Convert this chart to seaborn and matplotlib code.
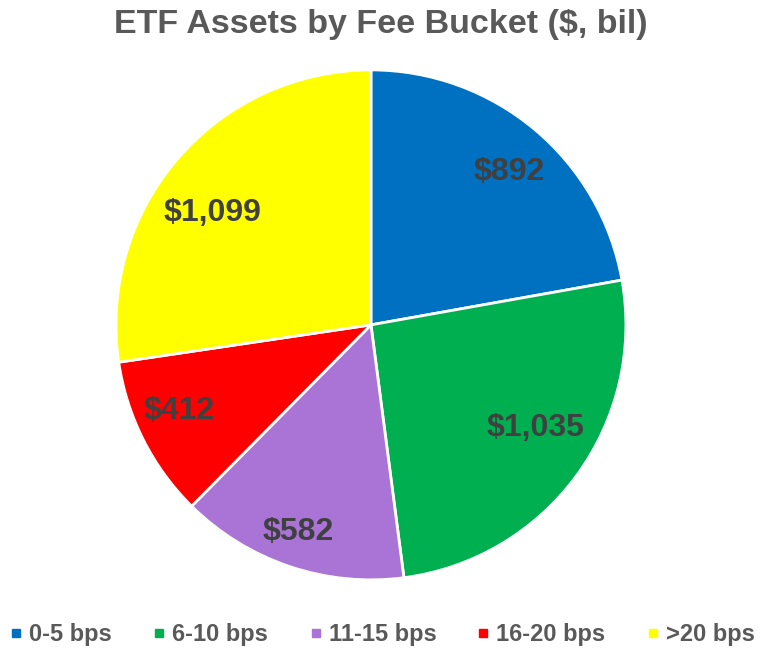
import matplotlib
matplotlib.use("Agg")
import numpy as np
import matplotlib.pyplot as plt
import seaborn as sns
from matplotlib.lines import Line2D

# Data
buckets = ["0-5 bps", "6-10 bps", "11-15 bps", "16-20 bps", ">20 bps"]
assets = [892, 1035, 582, 412, 1099]
colors = ["#0070C0", "#00B050", "#A974D6", "#FF0000", "#FFFF00"]
# value label placement: fraction of radius, angular shift from wedge middle (deg)
label_dist = [0.81, 0.76, 0.86, 0.825, 0.76]
label_shift = [-2.2, 4.2, -0.8, -2.6, 5.6]

sns.set_theme(style="white")
plt.rcParams['font.family'] = ['Liberation Sans', 'DejaVu Sans']

fig = plt.figure(figsize=(7.68, 6.55), dpi=100)
ax = fig.add_axes([0.151, 0.1145, 0.664, 0.779])

total = sum(assets)
wedges, texts, autotexts = ax.pie(
    assets, colors=colors, startangle=90, counterclock=False,
    autopct=lambda p: "${:,.0f}".format(p * total / 100),
    pctdistance=0.8,
    wedgeprops=dict(edgecolor="white", linewidth=2),
    textprops=dict(fontsize=23, fontweight="bold", color="#404040"),
)
for w, t, d, s in zip(wedges, autotexts, label_dist, label_shift):
    ang = np.deg2rad((w.theta1 + w.theta2) / 2 + s)
    t.set_position((d * np.cos(ang), d * np.sin(ang)))

ax.set_xlim(-1, 1)
ax.set_ylim(-1, 1)
ax.set_aspect("equal")

fig.suptitle("ETF Assets by Fee Bucket ($, bil)", x=0.496, y=0.962,
             fontsize=24.5, fontweight="bold", color="#595959", va="center")

handles = [Line2D([0], [0], marker="s", linestyle="none", markersize=5.5,
                  markerfacecolor=c, markeredgecolor=c) for c in colors]
leg = fig.legend(handles, buckets, loc="center", ncol=5,
                 bbox_to_anchor=(0.499, 0.031), frameon=False,
                 handlelength=0.4, handletextpad=0.35, columnspacing=1.8,
                 prop=dict(size=17, weight="bold"))
for t in leg.get_texts():
    t.set_color("#595959")

fig.savefig("out.png", dpi=100)
